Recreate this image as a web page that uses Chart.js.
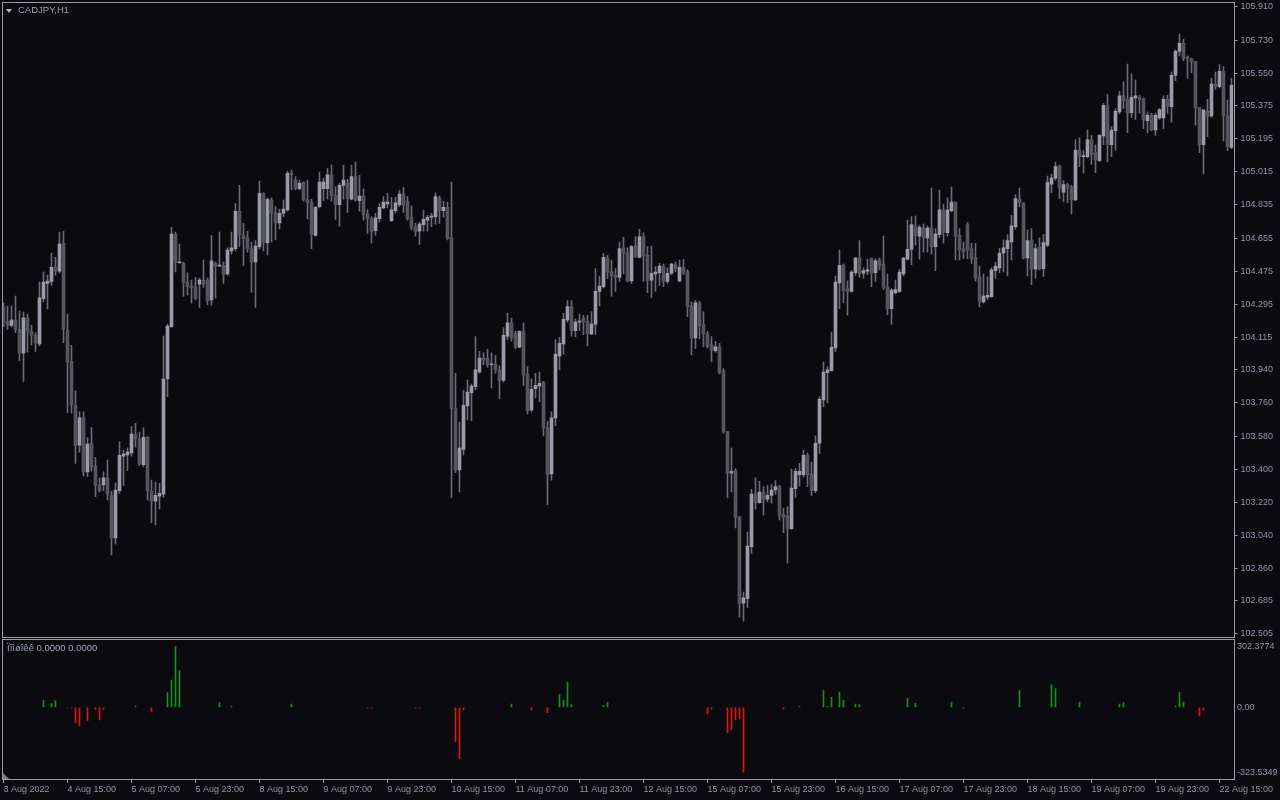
<!DOCTYPE html>
<html lang="en">
<head>
<meta charset="UTF-8">
<title>CADJPY,H1</title>
<script src="https://cdn.jsdelivr.net/npm/chart.js@4.4.4/dist/chart.umd.min.js"></script>
<style>
    html, body { margin: 0; padding: 0; background: #0a0a0f; }
    body { width: 1280px; height: 800px; position: relative; overflow: hidden; font-family: "Liberation Sans", Arial, sans-serif; }
    #main { position: absolute; left: 0; top: 0; }
    #sub { position: absolute; left: 0; top: 638px; }
    .caption { position: absolute; color: #9aa2b4; font-size: 9.5px; white-space: nowrap; line-height: 12px; }
    #title { left: 18px; top: 4px; }
    #arrow { position: absolute; left: 6px; top: 9px; width: 0; height: 0;
             border-left: 3.5px solid transparent; border-right: 3.5px solid transparent; border-top: 4px solid #b4b4bc; }
    #subTitle { left: 7px; top: 642px; }
</style>
</head>
<body>
<canvas id="main" width="1280" height="638"></canvas>
<canvas id="sub" width="1280" height="162"></canvas>
<div id="arrow"></div>
<div class="caption" id="title">CADJPY,H1</div>
<div class="caption" id="subTitle">Ïîìøîêê 0.0000 0.0000</div>

<script>
// CADJPY H1, 3 Aug 2022 23:00 .. 22 Aug 2022 (one candle per hour, weekends skipped)
const opens = [
104.283,104.203,104.181,104.210,104.159,104.032,104.222,104.149,104.127,104.080,104.326,104.409,104.420,104.496,104.475,104.627,
104.156,103.986,103.747,103.530,103.679,103.385,103.541,103.417,103.312,103.315,103.353,103.258,103.027,103.283,103.471,103.478,
103.489,103.591,103.563,103.424,103.573,103.283,103.226,103.254,103.265,103.892,104.174,104.677,104.521,104.518,104.416,104.394,
104.391,104.405,104.427,104.427,104.319,104.518,104.503,104.507,104.460,104.586,104.598,104.801,104.673,104.656,104.598,104.525,
104.609,104.898,104.630,104.862,104.790,104.738,104.790,104.808,105.007,104.970,104.923,104.959,104.866,104.851,104.670,104.826,
104.923,104.923,104.999,104.887,104.836,104.941,104.955,104.866,104.992,104.858,104.883,104.786,104.761,104.695,104.761,104.819,
104.840,104.749,104.804,104.836,104.894,104.855,104.765,104.717,104.692,104.728,104.753,104.768,104.772,104.873,104.804,104.822,
104.656,103.729,103.396,103.508,103.743,103.815,103.848,103.928,104.004,104.004,103.967,103.971,103.939,103.884,104.123,104.195,
104.138,104.062,104.149,103.917,103.722,103.837,103.852,103.873,103.627,103.374,103.679,104.015,104.080,104.210,104.283,104.152,
104.199,104.221,104.203,104.134,104.188,104.366,104.391,104.547,104.475,104.453,104.442,104.602,104.575,104.423,104.612,104.550,
104.663,104.561,104.427,104.460,104.467,104.503,104.420,104.464,104.511,104.423,104.496,104.475,104.286,104.113,104.304,104.185,
104.138,104.076,104.043,104.065,103.935,103.606,103.378,103.392,103.142,102.672,102.697,102.979,103.265,103.218,103.276,103.237,
103.258,103.287,103.305,103.153,103.146,103.077,103.294,103.370,103.370,103.475,103.374,103.283,103.541,103.776,103.924,103.935,
104.058,104.412,104.507,104.380,104.366,104.467,104.547,104.464,104.475,104.547,104.467,104.536,104.514,104.391,104.272,104.358,
104.366,104.460,104.540,104.594,104.720,104.666,104.710,104.656,104.710,104.609,104.673,104.808,104.684,104.804,104.851,104.670,
104.598,104.728,104.598,104.550,104.445,104.308,104.333,104.337,104.478,104.493,104.575,104.598,104.634,104.717,104.869,104.847,
104.547,104.645,104.486,104.605,104.489,104.616,104.948,104.981,105.046,104.905,104.945,104.934,104.862,105.133,105.097,105.097,
105.188,105.119,105.075,105.210,105.372,105.162,105.238,105.340,105.427,105.409,105.336,105.416,105.420,105.412,105.293,105.322,
105.242,105.307,105.307,105.409,105.369,105.539,105.669,105.713,105.637,105.629,105.615,105.365,105.162,105.344,105.318,105.492,
105.477,105.561,105.318,105.148
];
const highs = [
104.304,104.286,104.286,104.340,104.260,104.254,104.243,104.181,104.141,104.416,104.471,104.456,104.572,104.550,104.688,104.692,
104.243,104.073,103.826,103.711,103.711,103.570,103.627,103.464,103.353,103.385,103.450,103.280,103.326,103.548,103.504,103.516,
103.631,103.649,103.602,103.624,103.577,103.341,103.330,103.323,104.123,104.188,104.713,104.688,104.623,104.525,104.467,104.427,
104.442,104.438,104.536,104.438,104.670,104.525,104.688,104.525,104.602,104.688,104.844,104.941,104.735,104.692,104.634,104.641,
104.963,104.901,104.873,104.873,104.826,104.812,104.862,105.018,105.025,104.989,104.970,104.959,104.970,104.866,104.826,105.014,
104.981,105.032,105.053,104.934,104.952,105.050,104.974,105.050,105.068,104.996,104.923,104.808,104.772,104.790,104.844,104.880,
104.898,104.877,104.877,104.916,104.930,104.880,104.829,104.735,104.742,104.804,104.779,104.790,104.901,104.883,104.855,104.851,
104.959,103.921,103.656,103.830,103.884,103.862,104.120,104.040,104.032,104.051,104.032,104.018,103.961,104.167,104.247,104.221,
104.149,104.152,104.195,103.957,103.891,103.921,103.928,103.877,103.660,103.711,104.102,104.116,104.247,104.315,104.315,104.217,
104.243,104.236,104.236,104.254,104.489,104.449,104.572,104.561,104.536,104.489,104.634,104.659,104.602,104.616,104.663,104.703,
104.684,104.609,104.612,104.500,104.518,104.514,104.493,104.518,104.525,104.536,104.540,104.482,104.308,104.315,104.312,104.254,
104.149,104.120,104.095,104.084,103.946,103.606,103.515,103.403,103.142,102.733,103.059,103.291,103.353,103.334,103.305,103.309,
103.316,103.338,103.312,103.189,103.196,103.400,103.403,103.432,103.504,103.489,103.439,103.581,103.794,103.982,103.957,104.145,
104.449,104.590,104.514,104.423,104.478,104.550,104.641,104.493,104.540,104.547,104.543,104.547,104.666,104.460,104.380,104.427,
104.486,104.550,104.753,104.772,104.775,104.724,104.731,104.720,104.927,104.706,104.916,104.840,104.873,104.934,104.851,104.706,
104.634,104.739,104.627,104.627,104.503,104.460,104.445,104.493,104.525,104.598,104.645,104.674,104.779,104.891,104.927,104.847,
104.699,104.706,104.623,104.656,104.674,104.992,105.003,105.068,105.053,104.967,104.952,104.941,105.188,105.199,105.130,105.242,
105.213,105.162,105.217,105.387,105.434,105.260,105.358,105.452,105.503,105.600,105.546,105.514,105.430,105.416,105.340,105.333,
105.333,105.358,105.427,105.430,105.557,105.677,105.763,105.735,105.644,105.633,105.615,105.365,105.351,105.409,105.524,105.557,
105.597,105.586,105.405,105.524
];
const lows = [
104.174,104.159,104.172,104.141,103.989,103.877,104.036,104.073,104.040,104.069,104.308,104.269,104.398,104.453,104.464,104.087,
103.707,103.704,103.432,103.493,103.363,103.360,103.389,103.251,103.276,103.283,103.233,102.935,102.994,103.269,103.312,103.392,
103.471,103.519,103.421,103.414,103.233,103.109,103.098,103.183,103.247,103.794,104.170,104.471,104.518,104.340,104.347,104.301,
104.319,104.279,104.387,104.293,104.290,104.330,104.500,104.409,104.453,104.568,104.586,104.609,104.507,104.579,104.362,104.279,
104.595,104.586,104.564,104.634,104.645,104.703,104.772,104.801,104.916,104.916,104.916,104.855,104.759,104.598,104.666,104.819,
104.858,104.866,104.855,104.757,104.720,104.866,104.793,104.862,104.855,104.801,104.753,104.681,104.627,104.670,104.742,104.815,
104.819,104.746,104.790,104.826,104.793,104.753,104.699,104.666,104.619,104.692,104.692,104.717,104.731,104.735,104.768,104.645,
103.247,103.381,103.276,103.478,103.667,103.663,103.830,103.921,103.967,103.954,103.841,103.921,103.783,103.873,104.102,104.095,
104.055,104.058,103.855,103.700,103.711,103.787,103.765,103.581,103.207,103.341,103.635,103.939,104.025,104.199,104.123,104.120,
104.152,104.131,104.069,104.131,104.131,104.286,104.384,104.434,104.340,104.366,104.420,104.460,104.416,104.409,104.550,104.547,
104.420,104.358,104.333,104.366,104.398,104.391,104.409,104.456,104.471,104.416,104.456,104.228,104.022,104.055,104.109,104.066,
104.058,103.982,104.036,103.917,103.595,103.244,103.276,103.081,102.596,102.574,102.650,102.943,103.183,103.215,103.150,103.222,
103.215,103.265,103.124,103.055,102.889,103.073,103.247,103.309,103.356,103.305,103.258,103.272,103.486,103.740,103.761,103.932,
104.040,104.272,104.304,104.236,104.362,104.453,104.442,104.438,104.456,104.391,104.420,104.482,104.376,104.239,104.188,104.351,
104.358,104.449,104.536,104.511,104.616,104.540,104.579,104.579,104.568,104.478,104.656,104.627,104.666,104.797,104.536,104.536,
104.543,104.543,104.518,104.423,104.283,104.301,104.319,104.333,104.438,104.467,104.471,104.449,104.536,104.703,104.826,104.540,
104.449,104.402,104.438,104.482,104.445,104.609,104.901,104.970,104.869,104.851,104.847,104.786,104.858,105.043,105.007,105.090,
105.057,105.010,105.072,105.162,105.068,105.097,105.133,105.329,105.358,105.227,105.311,105.300,105.333,105.249,105.227,105.238,
105.213,105.300,105.249,105.333,105.285,105.510,105.644,105.618,105.524,105.553,105.268,105.119,105.003,105.206,105.311,105.463,
105.470,105.181,105.130,105.140
];
const closes = [
104.195,104.181,104.210,104.159,104.029,104.222,104.149,104.127,104.084,104.330,104.416,104.422,104.496,104.475,104.623,104.160,
103.982,103.750,103.530,103.679,103.385,103.537,103.414,103.312,103.283,103.353,103.265,103.027,103.287,103.475,103.482,103.493,
103.591,103.563,103.428,103.573,103.283,103.226,103.258,103.269,103.889,104.177,104.677,104.521,104.524,104.412,104.391,104.384,
104.326,104.427,104.405,104.315,104.532,104.503,104.507,104.456,104.590,104.602,104.801,104.673,104.652,104.598,104.525,104.612,
104.898,104.630,104.866,104.790,104.738,104.790,104.812,105.007,104.999,104.923,104.952,104.862,104.847,104.673,104.822,104.959,
104.959,104.999,104.887,104.836,104.941,104.970,104.869,104.989,104.862,104.883,104.782,104.761,104.692,104.765,104.822,104.851,
104.851,104.808,104.847,104.894,104.833,104.761,104.710,104.692,104.731,104.757,104.768,104.775,104.880,104.804,104.822,104.652,
103.729,103.396,103.515,103.747,103.819,103.852,103.939,104.004,103.993,103.967,103.971,103.939,103.880,104.127,104.195,104.113,
104.062,104.149,103.910,103.718,103.834,103.855,103.866,103.624,103.370,103.679,104.025,104.084,104.214,104.283,104.152,104.199,
104.203,104.199,104.134,104.188,104.366,104.395,104.550,104.471,104.449,104.442,104.598,104.572,104.423,104.609,104.554,104.663,
104.558,104.423,104.464,104.471,104.503,104.420,104.464,104.514,104.489,104.496,104.467,104.283,104.113,104.304,104.177,104.134,
104.069,104.047,104.065,103.924,103.602,103.378,103.389,103.139,102.672,102.701,102.983,103.265,103.218,103.276,103.233,103.258,
103.287,103.305,103.150,103.139,103.077,103.298,103.389,103.389,103.475,103.370,103.283,103.541,103.780,103.928,103.939,104.062,
104.416,104.507,104.369,104.366,104.471,104.547,104.460,104.478,104.482,104.464,104.532,104.503,104.387,104.272,104.373,104.376,
104.471,104.547,104.594,104.728,104.670,104.713,104.656,104.710,104.609,104.677,104.808,104.684,104.808,104.851,104.666,104.590,
104.579,104.590,104.543,104.438,104.308,104.340,104.344,104.482,104.503,104.572,104.602,104.641,104.721,104.869,104.847,104.547,
104.641,104.486,104.598,104.486,104.630,104.956,104.981,105.043,104.927,104.945,104.927,104.862,105.133,105.097,105.101,105.188,
105.108,105.079,105.213,105.376,105.162,105.242,105.344,105.427,105.401,105.333,105.420,105.427,105.405,105.296,105.322,105.242,
105.322,105.351,105.409,105.372,105.539,105.669,105.713,105.629,105.629,105.611,105.362,105.162,105.351,105.314,105.492,105.477,
105.561,105.318,105.151,105.485
];

// time axis labels, one every 16 bars
const timeLabels = ['3 Aug 2022', '4 Aug 15:00', '5 Aug 07:00', '5 Aug 23:00', '8 Aug 15:00', '9 Aug 07:00',
    '9 Aug 23:00', '10 Aug 15:00', '11 Aug 07:00', '11 Aug 23:00', '12 Aug 15:00', '15 Aug 07:00',
    '15 Aug 23:00', '16 Aug 15:00', '17 Aug 07:00', '17 Aug 23:00', '18 Aug 15:00', '19 Aug 07:00',
    '19 Aug 23:00', '22 Aug 15:00'];
const labelEvery = 16;

// price scale labels
const priceTicks = [105.910, 105.730, 105.550, 105.375, 105.195, 105.015, 104.835, 104.655, 104.475, 104.295,
    104.115, 103.940, 103.760, 103.580, 103.400, 103.220, 103.040, 102.860, 102.685, 102.505];

// indicator sub-window: bars only where the indicator is non zero
const histBar = [10, 12, 13, 16, 17, 18, 19, 21, 23, 24, 25, 33, 37, 41, 42, 43, 44, 54, 57, 72, 91, 92,
    103, 104, 113, 114, 115, 127, 132, 136, 139, 140, 141, 142, 150, 151, 176, 177, 181, 182, 183, 184, 185,
    195, 199, 205, 206, 207, 209, 210, 213, 214, 226, 228, 237, 240, 254, 262, 263, 269, 279, 280, 293, 294,
    295, 299, 300];
const histValue = [36, 20, 33, -3, -3, -77, -93, -67, -10, -63, -10, 6.5, -23.5, 73, 136, 302.3774, 183, 23, 5, 16.5, -4, -4,
    -4, -4, -173, -256, -13, 16.5, -13, -27, 63, 36, 126, 13, 10, 23, -33, -8, -127, -110, -63, -57, -323.5349,
    -8, 3, 83, 3, 50, 76, 36, 16.5, 13, 43, 20, 26, -6, 83, 113, 93, 26, 16.5, 23, 6, 76,
    26, -43, -13];
const subTicks = [302.3774, 0, -323.5349];
const subTickLabels = ['302.3774', '0.00', '-323.5349'];

const BG = '#0a0a0f';
const FRAME = '#9c9ca4';
const TEXT = '#8e96aa';
const BULL = '#9a9aa8';
const BEAR = '#55555c';
const WICK = '#6a6a72';
const UP = '#1e8c1e';
const DOWN = '#e01414';
const FONT = { family: '"Liberation Sans", Arial, sans-serif', size: 9 };

const barLabels = opens.map((o, i) => i % labelEvery === 0 ? timeLabels[i / labelEvery] : '');
const histData = opens.map(() => null);
histBar.forEach((b, k) => { histData[b] = histValue[k]; });

const framePlugin = {
    id: 'frame',
    afterDraw(chart, args, opts) {
        const { ctx, chartArea: a } = chart;
        ctx.save();
        ctx.strokeStyle = FRAME;
        ctx.lineWidth = 1;
        ctx.strokeRect(Math.round(a.left) + 0.5, Math.round(a.top) - 0.5,
            Math.round(a.right - a.left), Math.round(a.bottom - a.top) + 1);
        if (opts.corner) {
            ctx.fillStyle = '#7a7a82';
            ctx.beginPath();
            ctx.moveTo(a.left + 1.5, a.bottom - 6);
            ctx.lineTo(a.left + 1.5, a.bottom);
            ctx.lineTo(a.left + 7.5, a.bottom);
            ctx.fill();
        }
        ctx.restore();
    }
};

function fixWidth(s) {
    s.width = 46.5;
    s.paddingTop = 0;
    s.paddingBottom = 0;
}

new Chart(document.getElementById('main'), {
    type: 'bar',
    data: {
        labels: barLabels,
        datasets: [{
            label: 'wick',
            data: lows.map((l, i) => [l, highs[i]]),
            backgroundColor: WICK,
            barThickness: 1,
            grouped: false,
            order: 2
        }, {
            label: 'body',
            data: opens.map((o, i) => [o, closes[i]]),
            backgroundColor: closes.map((c, i) => c >= opens[i] ? BULL : BEAR),
            barThickness: 3,
            minBarLength: 1,
            grouped: false,
            order: 1
        }]
    },
    options: {
        responsive: false,
        animation: false,
        devicePixelRatio: 1,
        layout: { padding: { left: 1.5, right: 0, top: 3, bottom: 1 } },
        plugins: { legend: { display: false }, tooltip: { enabled: false }, frame: {} },
        scales: {
            x: { display: false, offset: true },
            y: {
                position: 'right',
                min: 102.4887,
                max: 105.9317,
                afterBuildTicks(s) { s.ticks = priceTicks.map(v => ({ value: v })); },
                afterFit: fixWidth,
                border: { display: false },
                grid: { drawOnChartArea: false, drawTicks: true, tickLength: 4, color: FRAME },
                ticks: { color: TEXT, font: FONT, padding: 3, autoSkip: false, callback: v => v.toFixed(3) }
            }
        }
    },
    plugins: [framePlugin]
});

new Chart(document.getElementById('sub'), {
    type: 'bar',
    data: {
        labels: barLabels,
        datasets: [{
            label: 'indicator',
            data: histData,
            backgroundColor: histData.map(v => v !== null && v < 0 ? DOWN : UP),
            barThickness: 1
        }]
    },
    options: {
        responsive: false,
        animation: false,
        devicePixelRatio: 1,
        layout: { padding: { left: 1.5, right: 0, top: 2, bottom: 0 } },
        plugins: { legend: { display: false }, tooltip: { enabled: false }, frame: { corner: true } },
        scales: {
            x: {
                offset: true,
                afterBuildTicks(s) { s.ticks = s.ticks.filter(t => t.value % labelEvery === 0); },
                afterFit(s) { s.height = 21; s.paddingLeft = 0; s.paddingRight = 0; },
                border: { display: false },
                grid: { offset: false, drawOnChartArea: false, drawTicks: true, tickLength: 4, color: FRAME },
                ticks: { color: TEXT, font: FONT, padding: 1, autoSkip: false, maxRotation: 0, align: 'start' }
            },
            y: {
                position: 'right',
                min: -357.4,
                max: 335.5,
                afterBuildTicks(s) { s.ticks = subTicks.map(v => ({ value: v })); },
                afterFit: fixWidth,
                border: { display: false },
                grid: { drawOnChartArea: false, drawTicks: false },
                ticks: { color: TEXT, font: FONT, padding: 3.5, autoSkip: false, callback: (v, i) => subTickLabels[i] }
            }
        }
    },
    plugins: [framePlugin]
});
</script>
</body>
</html>
